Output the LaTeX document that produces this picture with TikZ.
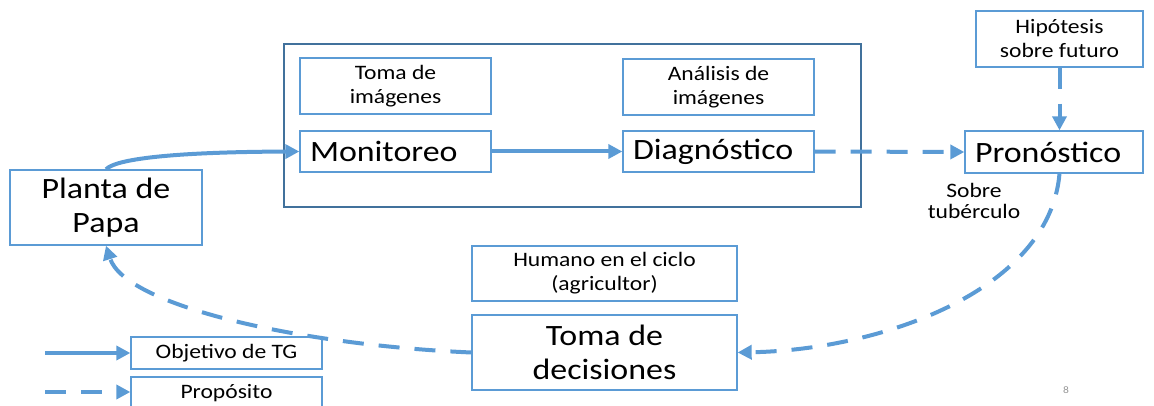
\documentclass[tikz,border=0pt]{standalone}
\usepackage{fontspec}
\setmainfont{Carlito}[FakeStretch=1.15]
\usetikzlibrary{arrows.meta}
\definecolor{ablue}{RGB}{91,155,213}
\definecolor{fblue}{RGB}{65,113,156}
\definecolor{pgray}{RGB}{150,150,150}
\begin{document}
\begin{tikzpicture}[x=1pt,y=-1pt,
  box/.style={draw=ablue, line width=1.3pt, inner sep=0pt, align=center},
  small/.style={font=\fontsize{20.5}{24}\selectfont},
  big/.style={font=\fontsize{29.5}{34}\selectfont},
  leftbig/.style={box, big, align=left, inner xsep=10pt},
  flow/.style={draw=ablue, line width=4pt, -{Triangle[length=14pt,width=14pt]}},
  dflow/.style={flow, dash pattern=on 21pt off 15pt}
]
\useasboundingbox (0,0) rectangle (1154,406);
% outer frame
\node[draw=fblue, line width=1.3pt, minimum width=577pt, minimum height=163pt, inner sep=0pt] (frame) at (572.5,125.5) {};
% boxes
\node[box, small, minimum width=191pt, minimum height=56pt] (toma) at (395.5,86) {Toma de\\imágenes};
\node[leftbig, text width=171pt, minimum height=41pt] (mon) at (395.5,151.5) {Monitoreo};
\node[box, small, minimum width=191pt, minimum height=56pt] (anal) at (718.5,87) {Análisis de\\imágenes};
\node[leftbig, text width=171pt, minimum height=41pt] (diag) at (718.5,151.5) {Diagnóstico};
\node[box, small, minimum width=167pt, minimum height=56pt] (hipo) at (1059.5,39) {Hipótesis\\sobre futuro};
\node[leftbig, text width=158pt, minimum height=42pt] (pron) at (1054,152) {Pronóstico};
\node[box, big, minimum width=192pt, minimum height=75pt] (planta) at (106,207.5) {Planta de\\Papa};
\node[box, small, minimum width=265pt, minimum height=55pt] (humano) at (604.5,273.5) {Humano en el ciclo\\(agricultor)};
\node[box, big, minimum width=265pt, minimum height=75pt] (decis) at (604.5,352.5) {Toma de\\decisiones};
\node[box, small, minimum width=191pt, minimum height=32pt] (obj) at (226.5,353) {Objetivo de TG};
\node[box, small, minimum width=191pt, minimum height=33pt] (prop) at (226.5,393.5) {Propósito};
\node[small, align=center, inner sep=0pt, font=\fontsize{20.5}{21}\selectfont] (sobre) at (974,201) {Sobre\\tubérculo};
\node[text=pgray, font=\fontsize{10}{12}\selectfont, inner sep=0pt] (pnum) at (1066,390) {8};
% connectors
\draw[flow] (planta.north) .. controls +(9,-10) and +(-130,0.5) .. (mon.west);
\draw[flow] (mon.east) -- (diag.west);
\draw[dflow] (diag.east) -- (pron.west);
\draw[dflow] (hipo.south) -- (hipo.south |- pron.north);
\draw[dflow] (hipo.south |- pron.south) .. controls +(-10,117) and +(143,-2.5) .. (decis.east);
\draw[dflow] (decis.west) .. controls +(-172,-7.5) and +(19,60) .. (planta.south);
% legend
\coordinate (l1) at (45,353);
\coordinate (l2) at (45,392);
\draw[flow] (l1) -- (l1 -| obj.west);
\draw[dflow] (l2) -- (l2 -| prop.west);
\end{tikzpicture}
\end{document}
